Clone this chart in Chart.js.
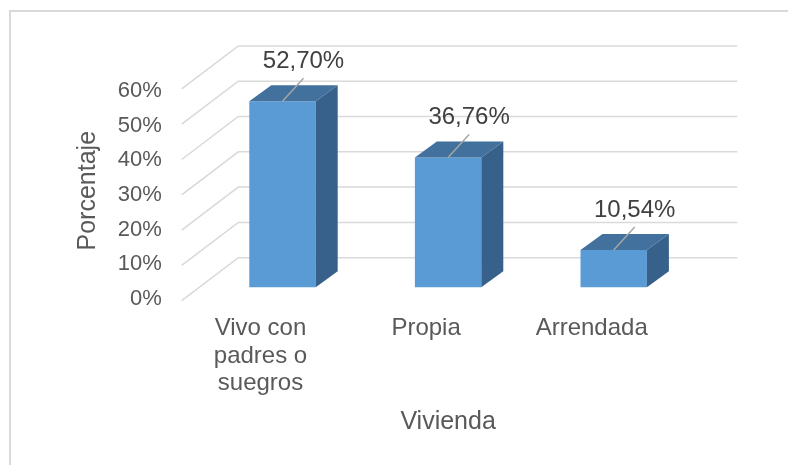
<!DOCTYPE html>
<html>
<head>
<meta charset="utf-8">
<script src="https://cdn.jsdelivr.net/npm/chart.js@4"></script>
<style>
  html, body { margin: 0; padding: 0; background: #fff; }
</style>
</head>
<body>
<canvas id="barChart" width="788" height="465"></canvas>
<script>
const categories = [["Vivo con", "padres o", "suegros"], "Propia", "Arrendada"];
const percentages = [52.70, 36.76, 10.54];
const tickValues = [0, 10, 20, 30, 40, 50, 60];
const xTitle = "Vivienda";
const yTitle = "Porcentaje";

const FRONT = "#5b9bd5", TOP = "#41719c", SIDE = "#37618a";
const GRID = "#d9d9d9", TEXT = "#595959";
const DX = 22, DY = -16; // bar depth

Chart.defaults.font.family = "'Liberation Sans', Arial, sans-serif";
Chart.defaults.color = TEXT;

function poly(ctx, pts, fill) {
  ctx.beginPath();
  ctx.moveTo(pts[0][0], pts[0][1]);
  for (let i = 1; i < pts.length; i++) ctx.lineTo(pts[i][0], pts[i][1]);
  ctx.closePath();
  ctx.fillStyle = fill;
  ctx.fill();
}

const wallPlugin = {
  id: "wall",
  beforeDraw(chart) {
    const ctx = chart.ctx;
    ctx.save();
    ctx.fillStyle = "#fff";
    ctx.fillRect(0, 0, chart.width, chart.height);
    ctx.strokeStyle = GRID;
    ctx.lineWidth = 2;
    ctx.strokeRect(10, 11, chart.width + 20, chart.height + 20);
    ctx.restore();
  },
  beforeDatasetsDraw(chart) {
    const { ctx, chartArea: a, scales: { y2 } } = chart;
    const fx = a.left - 18, bx = a.left + 38.6, rx = a.right + 40.8;
    ctx.save();
    ctx.strokeStyle = GRID;
    ctx.lineWidth = 1.5;
    tickValues.forEach((v) => {
      const p = y2.getPixelForValue(v);
      ctx.beginPath();
      ctx.moveTo(fx, p + 13.4);
      ctx.lineTo(bx, p - 29.6);
      ctx.lineTo(rx, p - 29.6);
      ctx.stroke();
    });
    ctx.restore();
  },
  afterDatasetsDraw(chart) {
    const ctx = chart.ctx;
    ctx.save();
    chart.getDatasetMeta(0).data.forEach((bar, i) => {
      const { x, y, base, width } = bar.getProps(["x", "y", "base", "width"], true);
      const l = x - width / 2, r = x + width / 2;
      poly(ctx, [[r, y], [r + DX, y + DY], [r + DX, base + DY], [r, base]], SIDE);
      poly(ctx, [[l, y], [l + DX, y + DY], [r + DX, y + DY], [r, y]], TOP);

      // leader line + value label
      ctx.strokeStyle = "#a6a6a6";
      ctx.lineWidth = 1.5;
      ctx.beginPath();
      ctx.moveTo(x, y);
      ctx.lineTo(x + 21, y - 23);
      ctx.stroke();
      ctx.fillStyle = "#404040";
      ctx.font = "24px 'Liberation Sans', Arial, sans-serif";
      ctx.textAlign = "center";
      ctx.textBaseline = "middle";
      ctx.fillText(percentages[i].toFixed(2).replace(".", ",") + "%", x + 21, y - 40);
    });
    ctx.restore();
  },
};

new Chart(document.getElementById("barChart"), {
  type: "bar",
  data: {
    labels: categories,
    datasets: [
      {
        label: yTitle,
        data: percentages,
        yAxisID: "y2",
        backgroundColor: FRONT,
        borderWidth: 0,
        categoryPercentage: 1,
        barPercentage: 0.401,
      },
    ],
  },
  options: {
    responsive: false,
    animation: false,
    layout: { padding: { left: 60, right: 91.5, top: 82.4, bottom: 0 } },
    plugins: { legend: { display: false }, tooltip: { enabled: false } },
    scales: {
      x: {
        afterFit(s) { s.height = 166; },
        grid: { display: false, drawTicks: false },
        border: { display: false },
        ticks: {
          labelOffset: -22,
          padding: 16,
          maxRotation: 0,
          autoSkip: false,
          color: TEXT,
          font: { size: 24, lineHeight: 1.14 },
        },
        title: {
          display: true,
          text: xTitle,
          color: TEXT,
          font: { size: 25 },
          padding: { top: 0, bottom: 28 },
        },
      },
      y: {
        position: "left",
        min: 0,
        max: 62.48,
        afterFit(s) { s.width = 139.7; },
        grid: { display: false, drawTicks: false },
        border: { display: false },
        ticks: {
          stepSize: 10,
          includeBounds: false,
          padding: 38,
          color: TEXT,
          font: { size: 22 },
          callback: (v) => v + "%",
        },
        title: {
          display: true,
          text: yTitle,
          color: TEXT,
          font: { size: 25 },
          padding: { top: 13, bottom: 0 },
        },
      },
      y2: {
        position: "left",
        display: false,
        min: -3.314,
        max: 58.05,
      },
    },
  },
  plugins: [wallPlugin],
});
</script>
</body>
</html>
